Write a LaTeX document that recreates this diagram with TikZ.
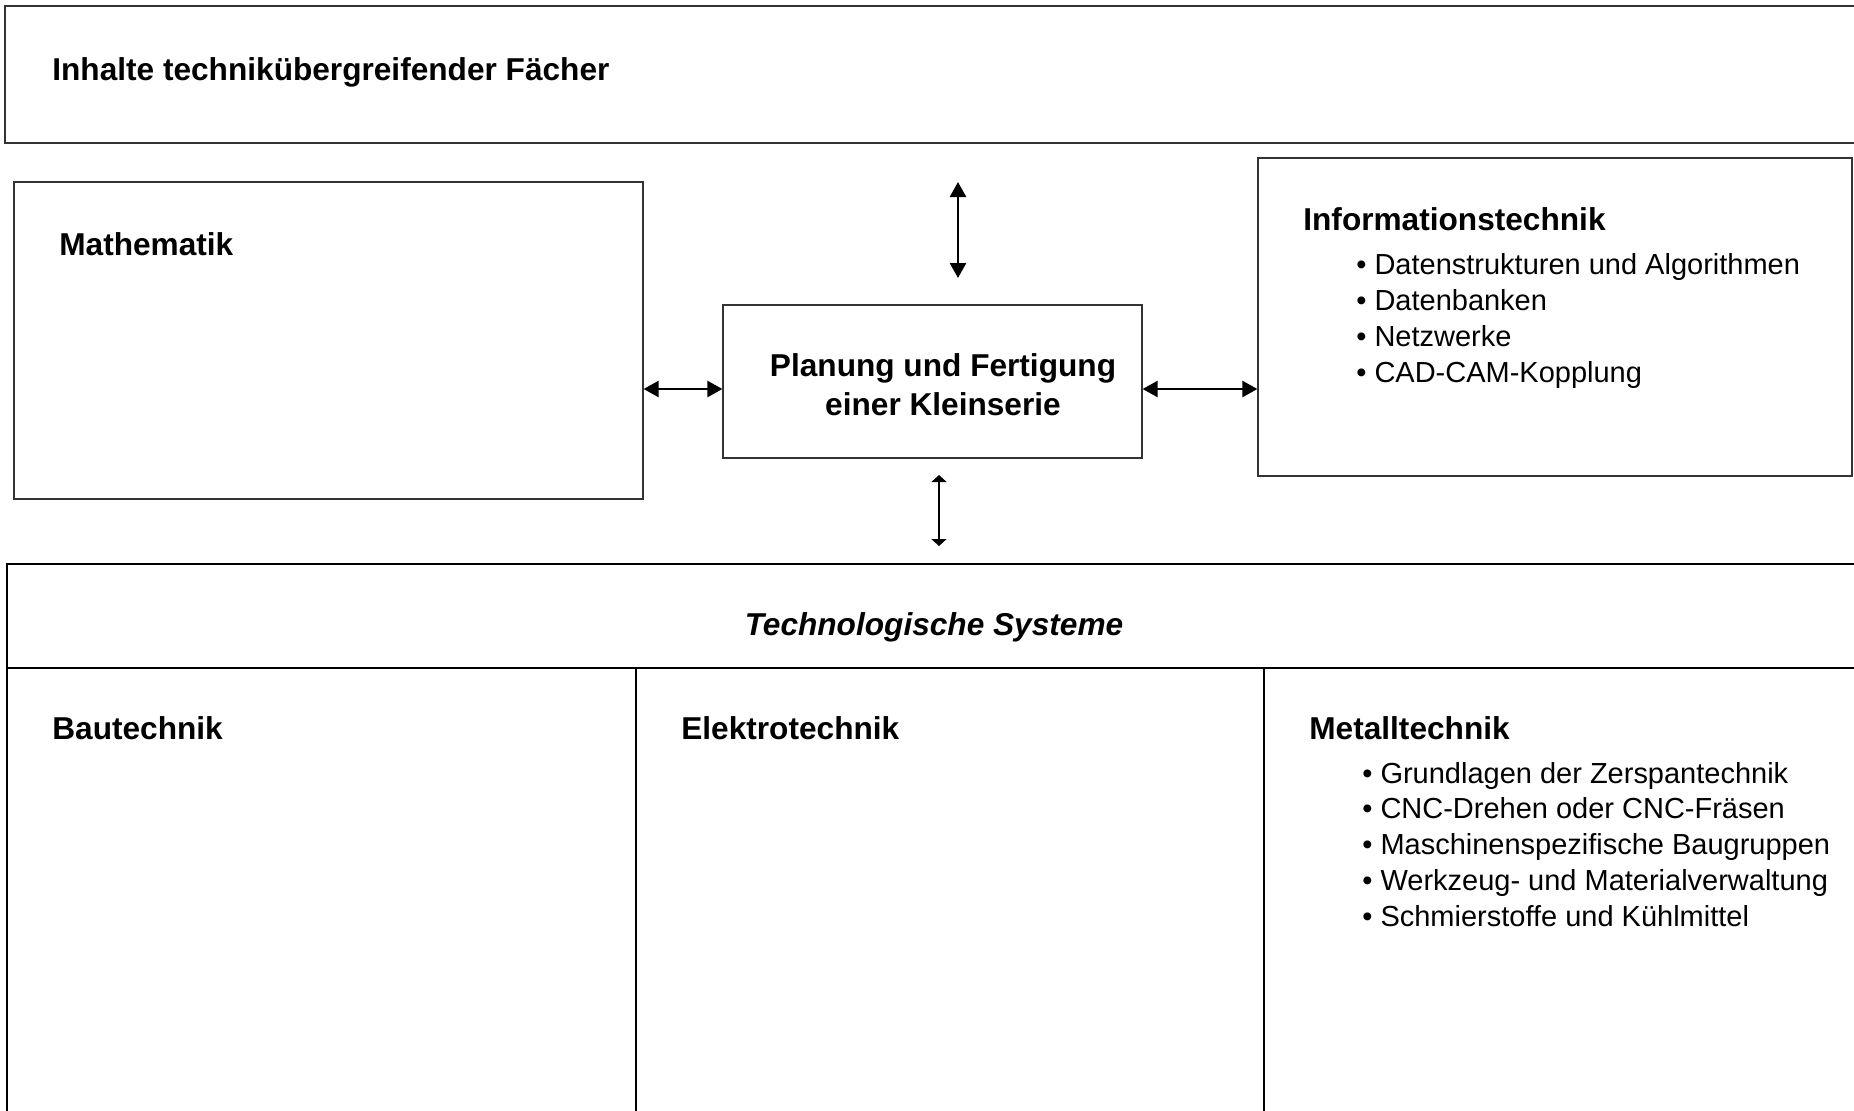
\documentclass[tikz,border=0pt]{standalone}
\usepackage{fontspec}
\setmainfont{Liberation Sans}
\usetikzlibrary{arrows.meta,fit,positioning}

\begin{document}
\begin{tikzpicture}[x=0.02cm, y=-0.02cm,
	box/.style={draw=black!80, line width=0.7pt, inner sep=0pt},
	tline/.style={draw=black, line width=1.4pt},
	head/.style={anchor=base west, inner sep=0pt, font=\fontsize{18}{22}\selectfont\bfseries},
	item/.style={anchor=base west, inner sep=0pt, font=\fontsize{16.5}{20}\selectfont},
	dir/.style={line width=1.4pt, {Triangle[length=0.3cm,width=0.32cm]}-{Triangle[length=0.3cm,width=0.32cm]}},
	dirsmall/.style={line width=1.4pt, {Triangle[length=0.14cm,width=0.3cm]}-{Triangle[length=0.14cm,width=0.3cm]}}]
	\clip (0,0) rectangle (1854,1110);
	\fill[white] (0,0) rectangle (1854,1110);

	% boxes
	\node[box, fit={(5,6) (1870,143)}] (top) {};
	\node[box, fit={(14,182) (643,499)}] (mathe) {};
	\node[box, fit={(723,305) (1142,458)}] (plan) {};
	\node[box, fit={(1258,158) (1852,476)}] (info) {};
	\node[tline, inner sep=0pt, fit={(7,564) (1870,1130)}] (tech) {};
	\draw[tline] (7,668) -- (1870,668);
	\foreach \x in {636,1264}
	{	\draw[tline] (\x,668) -- (\x,1130);
	}

	% titles
	\node[head] (inhalt) at (52,80) {Inhalte technikübergreifender Fächer};
	\node[head] (mathetitle) at (59,255) {Mathematik};
	\node[head] (infotitle) at (1303,230) {Informationstechnik};
	\node[head, anchor=center, align=center] (plantext) at (943,385) {Planung und Fertigung\\einer Kleinserie};
	\node[head, anchor=center, font=\fontsize{18}{22}\selectfont\bfseries\itshape] (tsys) at (934,627) {Technologische Systeme};
	\node[head] (bau) at (52,739) {Bautechnik};
	\node[head] (elektro) at (681,739) {Elektrotechnik};
	\node[head] (metall) at (1309,739) {Metalltechnik};

	% bullet lists
	\foreach \txt [count=\i] in {Datenstrukturen und Algorithmen, Datenbanken, Netzwerke, CAD-CAM-Kopplung}
	{	\node[item] (infoitem\i) at (1356, {274+36.3*(\i-1)}) {\textbullet\ \txt};
	}
	\foreach \txt [count=\i] in {Grundlagen der Zerspantechnik, CNC-Drehen oder CNC-Fräsen, Maschinenspezifische Baugruppen, Werkzeug- und Materialverwaltung, Schmierstoffe und Kühlmittel}
	{	\node[item] (metallitem\i) at (1362, {783+35.8*(\i-1)}) {\textbullet\ \txt};
	}

	% arrows
	\coordinate (lr) at (0,389);
	\draw[dir] (mathe.east |- lr) -- (plan.west |- lr);
	\draw[dir] (plan.east |- lr) -- (info.west |- lr);
	\coordinate (up1) at (958,182);
	\coordinate (up2) at (958,278);
	\draw[dir] (up1) -- (up2);
	\coordinate (dn1) at (939,475);
	\coordinate (dn2) at (939,546);
	\draw[dirsmall] (dn1) -- (dn2);
\end{tikzpicture}
\end{document}
